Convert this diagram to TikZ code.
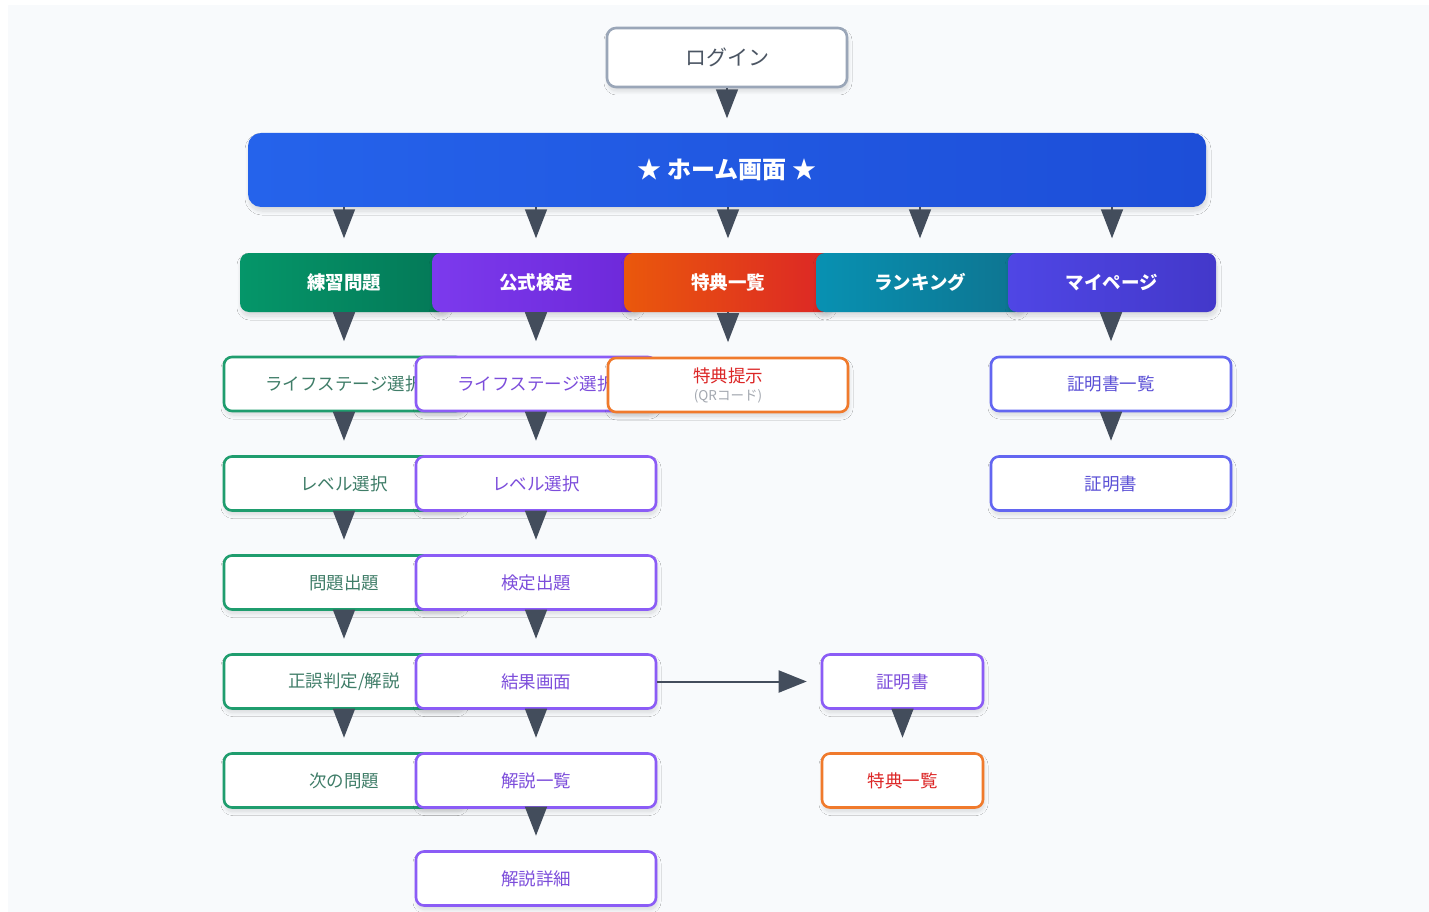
\documentclass[tikz,border=0pt]{standalone}
\usepackage{fontspec}
\setmainfont{Noto Sans CJK JP}
\usetikzlibrary{arrows.meta,shadows.blur}
\definecolor{bgc}{HTML}{F8FAFC}
\definecolor{arrc}{HTML}{434D5C}
\definecolor{logb}{HTML}{9AA6B8}
\definecolor{logt}{HTML}{4B5563}
\definecolor{grb}{HTML}{1F9D6E}
\definecolor{grt}{HTML}{3F7D68}
\definecolor{pub}{HTML}{8B5CF6}
\definecolor{put}{HTML}{7C4DDB}
\definecolor{orb}{HTML}{F07A2C}
\definecolor{ort}{HTML}{DC2626}
\definecolor{inb}{HTML}{6366F1}
\definecolor{int}{HTML}{5B50D6}
\definecolor{qrt}{HTML}{A3A8B0}
\tikzset{
  shd/.style={blur shadow={shadow xshift=1pt,shadow yshift=-4pt,shadow blur radius=4pt,shadow blur steps=20,shadow opacity=14}},
  rowbox/.style={shd,draw,line width=2.6pt,fill=white,rounded corners=8pt,minimum width=240pt,minimum height=54pt,font=\fontsize{17.5}{19}\selectfont,inner sep=0pt},
  gbox/.style={rowbox,draw=grb,text=grt},
  pbox/.style={rowbox,draw=pub,text=put},
  obox/.style={rowbox,draw=orb,text=ort},
  ibox/.style={rowbox,draw=inb,text=int},
  catbox/.style={shd,rounded corners=9pt,minimum width=208pt,minimum height=59pt,text=white,font=\fontsize{18.5}{20}\bfseries\selectfont,inner sep=0pt},
  arr/.style={draw=arrc,fill=arrc,line width=1.5pt,-{Triangle[length=29pt,width=22pt]},shorten >=14.5pt},
  harr/.style={draw=arrc,line width=2pt,-{Triangle[length=28pt,width=22pt]},shorten >=14pt},
}
\begin{document}
\begin{tikzpicture}[x=1pt,y=-1pt]
\useasboundingbox (0,0) rectangle (1429,912);
\fill[bgc] (8,5) rectangle (1429,912);

% login
\node[shd,draw=logb,line width=2.6pt,fill=white,rounded corners=9pt,minimum width=240pt,minimum height=59pt,text=logt,font=\fontsize{21}{23}\selectfont,inner sep=0pt] (login) at (727,57.5) {ログイン};

% home
\node[shd,rounded corners=13pt,minimum width=958pt,minimum height=74pt,left color={rgb,255:red,37;green,99;blue,235},right color={rgb,255:red,29;green,78;blue,216},text=white,font=\fontsize{24}{26}\bfseries\selectfont,inner sep=0pt] (home) at (727,170) {★ ホーム画面 ★};

% categories
\node[catbox,left color={rgb,255:red,5;green,150;blue,105},right color={rgb,255:red,4;green,120;blue,87}] (c1) at (344,282.5) {練習問題};
\node[catbox,left color={rgb,255:red,124;green,58;blue,237},right color={rgb,255:red,109;green,40;blue,217}] (c2) at (536,282.5) {公式検定};
\node[catbox,left color={rgb,255:red,234;green,88;blue,12},right color={rgb,255:red,220;green,38;blue,38}] (c3) at (728,282.5) {特典一覧};
\node[catbox,left color={rgb,255:red,8;green,145;blue,178},right color={rgb,255:red,14;green,116;blue,144}] (c4) at (920,282.5) {ランキング};
\node[catbox,left color={rgb,255:red,79;green,70;blue,229},right color={rgb,255:red,67;green,56;blue,202}] (c5) at (1112,282.5) {マイページ};

% column 1 (green)
\node[gbox] (g1) at (344,384) {ライフステージ選択};
\node[gbox] (g2) at (344,483.5) {レベル選択};
\node[gbox] (g3) at (344,582.5) {問題出題};
\node[gbox] (g4) at (344,681.5) {正誤判定/解説};
\node[gbox] (g5) at (344,780.5) {次の問題};

% column 2 (purple)
\node[pbox] (p1) at (536,384) {ライフステージ選択};
\node[pbox] (p2) at (536,483.5) {レベル選択};
\node[pbox] (p3) at (536,582.5) {検定出題};
\node[pbox] (p4) at (536,681.5) {結果画面};
\node[pbox] (p5) at (536,780.5) {解説一覧};
\node[pbox] (p6) at (536,878.5) {解説詳細};

% column 3 (orange)
\node[obox,align=center] (o1) at (728,385) {特典提示\\[-1pt]{\fontsize{13.5}{15}\selectfont\color{qrt}(QRコード)}};

% certificate branch
\node[pbox,minimum width=161pt] (cert) at (902.5,681.5) {証明書};
\node[obox,minimum width=161pt] (perk) at (902.5,780.5) {特典一覧};

% column 5 (indigo)
\node[ibox] (i1) at (1111,384) {証明書一覧};
\node[ibox] (i2) at (1111,483.5) {証明書};

% arrows
\draw[arr] (login) -- (home);
\foreach \c in {c1,c2,c3,c4,c5}{
  \draw[arr] (home.south -| \c.north) -- (\c.north);
}
\draw[arr] (c1) -- (g1);
\draw[arr] (c2) -- (p1);
\draw[arr] (c3) -- (o1);
\draw[arr] (c5.south -| i1.north) -- (i1);
\draw[arr] (g1) -- (g2);
\draw[arr] (g2) -- (g3);
\draw[arr] (g3) -- (g4);
\draw[arr] (g4) -- (g5);
\draw[arr] (p1) -- (p2);
\draw[arr] (p2) -- (p3);
\draw[arr] (p3) -- (p4);
\draw[arr] (p4) -- (p5);
\draw[arr] (p5) -- (p6);
\draw[arr] (i1) -- (i2);
\draw[arr] (cert) -- (perk);
\draw[harr] (p4) -- (cert);
\end{tikzpicture}
\end{document}
